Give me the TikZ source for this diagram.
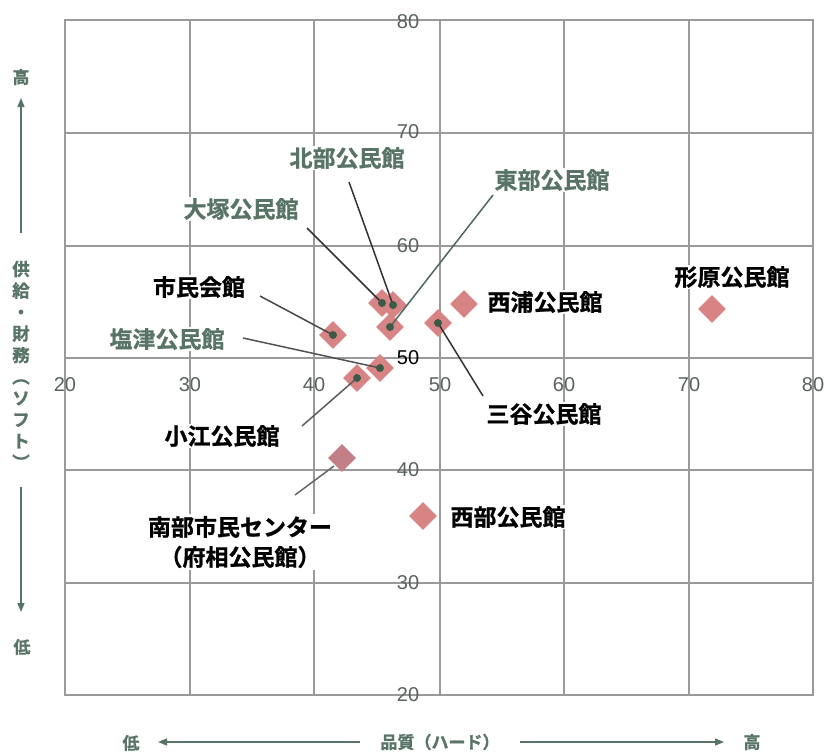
\documentclass[tikz,border=0pt]{standalone}
\usepackage{fontspec}
\usetikzlibrary{shapes.geometric,arrows.meta}
\newfontfamily\jpb{Noto Sans CJK JP Bold}[FakeBold=1]
\newfontfamily\numf{Liberation Sans}
\definecolor{gridc}{HTML}{9A9A9A}
\definecolor{sage}{HTML}{587466}
\definecolor{pinkd}{HTML}{D98484}
\definecolor{mauve}{HTML}{C27F88}
\definecolor{dotc}{HTML}{3D5A48}
\definecolor{leadc}{HTML}{333333}
\definecolor{tickc}{HTML}{5A625E}
\tikzset{
  gridline/.style={draw=gridc, line width=1.3pt},
  lbl/.style={font=\jpb\fontsize{23}{30}\selectfont, fill=white, inner sep=1pt, text=black},
  lblg/.style={lbl, text=sage},
  pt/.style={diamond, fill=pinkd, inner sep=0pt, minimum size=28pt},
  dotn/.style={circle, fill=dotc, inner sep=0pt, minimum size=8pt},
  lead/.style={draw=leadc, line width=1.5pt},
  tick/.style={font=\numf\fontsize{20}{22}\selectfont, text=tickc, inner sep=0pt},
  axl/.style={font=\jpb\fontsize{17}{19}\selectfont, text=sage, inner sep=0pt},
  axarrow/.style={draw=sage, line width=1.4pt, -{Triangle[length=9pt,width=7pt]}}
}
\begin{document}
\begin{tikzpicture}[x=1pt,y=-1pt]
\useasboundingbox (0,0) rectangle (824,755);
\fill[white] (0,0) rectangle (824,755);
% grid
\foreach \gx in {190,314,440,564,689} \draw[gridline] (\gx,20) -- (\gx,695);
\foreach \gy in {133,246,358,470,583} \draw[gridline] (65,\gy) -- (813,\gy);
\draw[gridline] (65,20) rectangle (813,695);
% tick labels
\foreach \v/\gy in {80/22,70/132,60/246,40/470,30/583,20/695} \node[tick] (ty\v) at (408,\gy) {\v};
\node[tick, text=black] (ty50) at (408,358) {50};
\foreach \v/\gx in {20/65,30/190,40/314,50/440,60/564,70/689,80/813} \node[tick] (tx\v) at (\gx,385) {\v};
% points
\node[pt] (p1) at (712,309) {};
\node[pt] (p2) at (464,304) {};
\node[pt] (p3) at (438,323) {};
\node[pt] (p5) at (382,303) {};
\node[pt] (p4) at (393,305) {};
\node[pt] (p6) at (390,327) {};
\node[pt] (p7) at (333,335) {};
\node[pt] (p8) at (380,368) {};
\node[pt] (p9) at (357,378) {};
\node[pt, fill=mauve] (p10) at (342,458) {};
\node[pt] (p11) at (423,516) {};
% labels
\node[lblg] (l4) at (347,158) {北部公民館};
\node[lblg] (l5) at (241,209) {大塚公民館};
\node[lblg] (l6) at (552,180) {東部公民館};
\node[lbl] (l7) at (199,287) {市民会館};
\node[lblg] (l8) at (167,339) {塩津公民館};
\node[lbl] (l1) at (732,277) {形原公民館};
\node[lbl] (l2) at (545,302) {西浦公民館};
\node[lbl] (l3) at (544,414) {三谷公民館};
\node[lbl] (l9) at (222,436) {小江公民館};
\node[lbl, align=center, inner sep=2pt] (l10) at (240,542) {南部市民センター\\（府相公民館）};
\node[lbl] (l11) at (508,517) {西部公民館};
% leader start points
\coordinate (s4) at (349,182);
\coordinate (s5) at (307,228);
\coordinate (s6) at (493,195);
\coordinate (s7) at (260,296);
\coordinate (s8) at (243,338);
\coordinate (s9) at (302,426);
\coordinate (s10) at (295,495);
\coordinate (e10) at (334,466);
\coordinate (s3) at (483,396);
% leaders
\draw[lead] (s4) -- (p4.center);
\draw[lead] (s5) -- (p5.center);
\draw[lead, draw=sage!90!black] (s6) -- (p6.center);
\draw[lead, draw=leadc!90] (s7) -- (p7.center);
\draw[lead, draw=leadc!85] (s8) -- (p8.center);
\draw[lead, draw=leadc!80] (s9) -- (p9.center);
\draw[lead, draw=leadc!75] (s10) -- (e10);
\draw[lead] (s3) -- (p3.center);
% dots
\foreach \p in {p3,p4,p5,p6,p7,p8,p9} \node[dotn] at (\p.center) {};
% vertical axis annotation
\node[axl] (yhi) at (21,77) {高};
\node[axl] (ylo) at (22,647) {低};
\coordinate (ua0) at (21,233);
\coordinate (ua1) at (21,98);
\coordinate (da0) at (21,487);
\coordinate (da1) at (21,612);
\draw[axarrow] (ua0) -- (ua1);
\draw[axarrow] (da0) -- (da1);
\node[axl, align=center, font=\jpb\fontsize{17.5}{21.5}\selectfont] (ytitle) at (21,365) {供\\給\\・\\財\\務\\︵\\ソ\\フ\\ト\\︶};
% horizontal axis annotation
\node[axl] (xlo) at (131,743) {低};
\node[axl] (xhi) at (752,742) {高};
\node[axl] (xtitle) at (440,742) {品質（ハード）};
\coordinate (la0) at (360,742);
\coordinate (la1) at (158,742);
\coordinate (ra0) at (520,742);
\coordinate (ra1) at (724,742);
\draw[axarrow] (la0) -- (la1);
\draw[axarrow] (ra0) -- (ra1);
\end{tikzpicture}
\end{document}
